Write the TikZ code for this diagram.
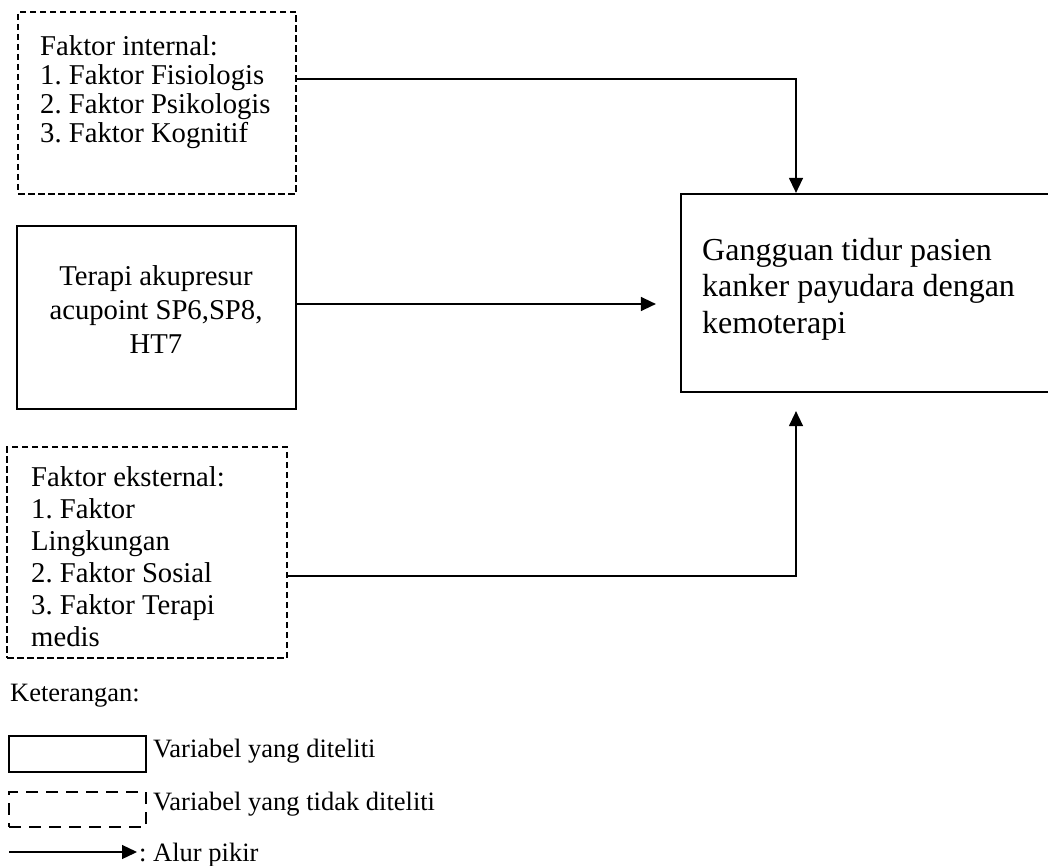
\documentclass[tikz,border=0pt]{standalone}
\usepackage{fontspec}
\setmainfont{Liberation Serif}
\usetikzlibrary{arrows.meta}
\frenchspacing
\begin{document}
\begin{tikzpicture}[x=1pt,y=-1pt,
  solidbox/.style={draw, line width=2.2pt, inner sep=0pt},
  dashbox/.style={draw, line width=1.8pt, dash pattern=on 6.5pt off 3.5pt, inner sep=0pt},
  legdash/.style={draw, line width=1.8pt, dash pattern=on 12pt off 8pt, inner sep=0pt},
  conn/.style={line width=1.3pt, -{Triangle[length=15pt,width=14pt]}},
  txt/.style={inner sep=0pt, align=left, anchor=north west},
]
\clip (0,0) rectangle (1048,866);
\fill[white] (0,0) rectangle (1048,866);

% boxes
\node[dashbox, minimum width=278pt, minimum height=182pt] (int) at (157,103) {};
\node[solidbox, minimum width=279pt, minimum height=183pt] (ter) at (156.5,317.5) {};
\node[dashbox, minimum width=280pt, minimum height=211pt] (ext) at (147,552.5) {};
\node[solidbox, minimum width=419pt, minimum height=198pt] (main) at (890.5,293) {};

% texts
\node[txt, font=\fontsize{28.7}{29.2}\selectfont] (intT) at (40,35)
  {Faktor internal:\\1. Faktor Fisiologis\\2. Faktor Psikologis\\3. Faktor Kognitif};
\node[inner sep=0pt, align=center, anchor=north, font=\fontsize{28.7}{34}\selectfont] (terT) at (156,265)
  {Terapi akupresur\\acupoint SP6,SP8,\\HT7};
\node[txt, font=\fontsize{28.7}{32}\selectfont] (extT) at (31,466)
  {Faktor eksternal:\\1. Faktor\\Lingkungan\\2. Faktor Sosial\\3. Faktor Terapi\\medis};
\node[txt, font=\fontsize{32}{36.5}\selectfont] (mainT) at (702,238)
  {Gangguan tidur pasien\\kanker payudara dengan\\kemoterapi};

% connectors
\coordinate (c1) at ([yshift=24pt]int.east);
\coordinate (c1e) at ([xshift=-94.5pt]main.north);
\draw[conn] (c1) -| (c1e);
\coordinate (c2) at ([yshift=13.5pt]ter.east);
\coordinate (c2e) at ([xshift=-24pt]main.west);
\draw[conn] (c2) -- (c2 -| c2e);
\coordinate (c3) at ([yshift=-23.5pt]ext.east);
\coordinate (c3e) at ([xshift=-94.5pt,yshift=-18pt]main.south);
\draw[conn] (c3) -| (c3e);

% legend
\node[txt, font=\fontsize{26.5}{30}\selectfont] (ket) at (10,684) {Keterangan:};
\node[solidbox, minimum width=137pt, minimum height=36pt] (lg1) at (77.5,754) {};
\node[txt, font=\fontsize{26.5}{30}\selectfont] (lg1T) at (153,739) {Variabel yang diteliti};
\node[legdash, minimum width=137pt, minimum height=35pt] (lg2) at (77.5,809.5) {};
\node[txt, font=\fontsize{26.5}{30}\selectfont] (lg2T) at (153,792) {Variabel yang tidak diteliti};
\coordinate (la) at (9,852);
\coordinate (lb) at (137,852);
\draw[conn] (la) -- (lb);
\node[txt, font=\fontsize{26.5}{30}\selectfont] (lg3T) at (139,843) {: Alur pikir};
\end{tikzpicture}
\end{document}
